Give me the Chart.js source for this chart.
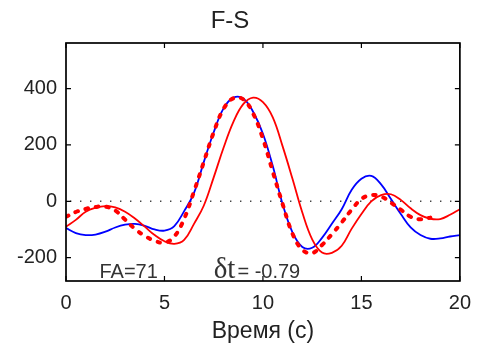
<!DOCTYPE html>
<html>
<head>
<meta charset="utf-8">
<script src="https://cdn.jsdelivr.net/npm/chart.js@4"></script>
<style>
  html, body { margin: 0; padding: 0; background: #fff; }
  canvas { display: block; }
</style>
</head>
<body>
<canvas id="chart" width="481" height="346"></canvas>
<script>
// время, с
const times = [0, 0.5, 1, 1.5, 2, 2.5, 3, 3.5, 4, 4.5, 5, 5.5, 6, 6.5, 7, 7.5, 8, 8.5, 9, 9.5,
  10, 10.5, 11, 11.5, 12, 12.5, 13, 13.5, 14, 14.5, 15, 15.5, 16, 16.5, 17, 17.5, 18, 18.5, 19, 19.5, 20];

// синяя сплошная
const observed = [-95, -113, -120, -118, -108, -93, -83, -80, -87, -100, -104, -88, -35, 30, 140, 245, 330, 368, 365, 318,
  240, 125, -10, -110, -162, -165, -130, -80, -28, 40, 80, 90, 60, 8, -45, -93, -120, -133, -132, -125, -120];

// красная сплошная
const synthetic = [-90, -66, -37, -23, -17, -22, -37, -61, -90, -120, -142, -151, -137, -80, -15, 85, 190, 282, 345, 368,
  352, 298, 195, 80, -40, -135, -182, -183, -158, -98, -45, 0, 22, 25, 5, -25, -49, -62, -63, -48, -28];

// красная пунктирная (сдвинутая), до 18.5 с
const shifted = [-55, -38, -27, -20, -19, -33, -65, -98, -123, -140, -147, -125, -62, 35, 140, 245, 328, 366, 362, 312,
  222, 105, -10, -115, -172, -184, -155, -117, -75, -30, 8, 22, 17, -5, -30, -55, -64, -58];

const xTicks = [0, 5, 10, 15, 20];
const yTicks = [-200, 0, 200, 400];
const chartTitle = 'F-S';
const xTitle = 'Время (с)';
const faText = 'FA=71';
const dtText = '= -0.79';

const sans = '"Liberation Sans", Arial, sans-serif';
const serif = '"Liberation Serif", "Times New Roman", serif';

const toPoints = (values) => values.map((v, i) => ({ x: times[i], y: v }));

// рамка, засечки внутрь, нулевая линия и подписи
const matlabBox = {
  id: 'matlabBox',
  beforeDatasetsDraw(chart) {
    const { ctx, chartArea: a, scales: { y } } = chart;
    const y0 = y.getPixelForValue(0);
    ctx.save();
    ctx.strokeStyle = '#444';
    ctx.lineWidth = 1.4;
    ctx.setLineDash([1.4, 8.6]);
    ctx.beginPath();
    ctx.moveTo(a.left + 4, y0);
    ctx.lineTo(a.right, y0);
    ctx.stroke();
    ctx.restore();
  },
  afterDatasetsDraw(chart) {
    const { ctx, chartArea: a, scales: { x, y } } = chart;
    ctx.save();
    ctx.strokeStyle = '#000';
    ctx.lineWidth = 1.2;
    ctx.beginPath();
    xTicks.forEach((v) => {
      const px = x.getPixelForValue(v);
      ctx.moveTo(px, a.bottom); ctx.lineTo(px, a.bottom - 5);
      ctx.moveTo(px, a.top); ctx.lineTo(px, a.top + 5);
    });
    yTicks.forEach((v) => {
      const py = y.getPixelForValue(v);
      ctx.moveTo(a.left, py); ctx.lineTo(a.left + 5, py);
      ctx.moveTo(a.right, py); ctx.lineTo(a.right - 5, py);
    });
    ctx.stroke();
    ctx.lineWidth = 1.7;
    ctx.strokeRect(a.left, a.top, a.right - a.left, a.bottom - a.top);

    // FA и δt
    ctx.fillStyle = '#333';
    ctx.textBaseline = 'alphabetic';
    ctx.textAlign = 'left';
    const base = y.getPixelForValue(-272);
    ctx.font = '20px ' + sans;
    ctx.fillText(faText, x.getPixelForValue(1.7), base);
    const dx = x.getPixelForValue(7.5);
    ctx.font = '29px ' + serif;
    ctx.fillText('δt', dx, base);
    const w = ctx.measureText('δt').width;
    ctx.font = '20px ' + sans;
    ctx.fillText(dtText, dx + w + 2, base);
    ctx.restore();
  },
  afterDraw(chart) {
    const { ctx } = chart;
    ctx.save();
    ctx.fillStyle = '#222';
    ctx.font = '24px ' + sans;
    ctx.textAlign = 'center';
    ctx.textBaseline = 'middle';
    ctx.fillText(chartTitle, 230, 21);
    ctx.restore();
  }
};

new Chart(document.getElementById('chart'), {
  type: 'line',
  data: {
    datasets: [
      {
        data: toPoints(shifted),
        borderColor: 'rgb(255, 0, 0)',
        borderWidth: 4,
        borderDash: [2.5, 8],
        borderCapStyle: 'round',
        pointRadius: 0,
        tension: 0.4
      },
      {
        data: toPoints(synthetic),
        borderColor: 'rgb(255, 0, 0)',
        borderWidth: 1.8,
        pointRadius: 0,
        tension: 0.4
      },
      {
        data: toPoints(observed),
        borderColor: 'rgb(0, 0, 255)',
        borderWidth: 1.8,
        pointRadius: 0,
        tension: 0.4
      }
    ]
  },
  options: {
    responsive: false,
    animation: false,
    devicePixelRatio: 1,
    layout: { padding: { left: 0, right: 18, top: 43, bottom: 0 } },
    plugins: { legend: { display: false }, tooltip: { enabled: false }, title: { display: false } },
    scales: {
      x: {
        type: 'linear',
        min: 0,
        max: 20,
        afterBuildTicks: (s) => { s.ticks = xTicks.map((v) => ({ value: v })); },
        afterFit: (s) => { s.height = 65; },
        grid: { display: false, drawTicks: false },
        border: { display: false },
        ticks: { font: { family: sans, size: 20 }, color: '#222', padding: 10, maxRotation: 0 },
        title: {
          display: true,
          text: xTitle,
          font: { family: sans, size: 23 },
          color: '#222',
          padding: { top: 0, bottom: 1 }
        }
      },
      y: {
        min: -283,
        max: 562,
        afterBuildTicks: (s) => { s.ticks = yTicks.map((v) => ({ value: v })); },
        afterFit: (s) => { s.width = 66; },
        grid: { display: false, drawTicks: false },
        border: { display: false },
        ticks: { font: { family: sans, size: 20 }, color: '#222', padding: 9 }
      }
    }
  },
  plugins: [matlabBox]
});
</script>
</body>
</html>
